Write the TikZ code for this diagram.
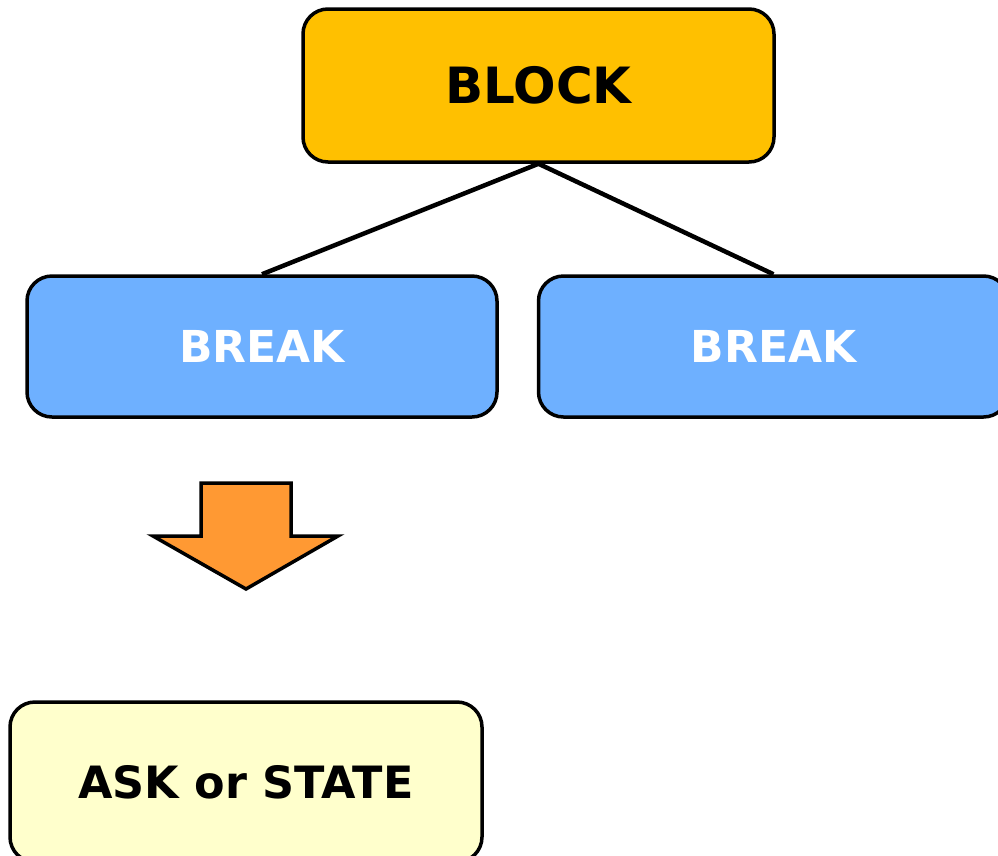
\documentclass[tikz,border=0pt]{standalone}
\usepackage{fontspec}
\setmainfont{DejaVu Sans}
\definecolor{blockfill}{HTML}{FFC000}
\definecolor{breakfill}{HTML}{6EB0FF}
\definecolor{arrowfill}{HTML}{FF9933}
\definecolor{askfill}{HTML}{FFFFCC}
\begin{document}
\begin{tikzpicture}[x=1pt,y=-1pt,
  box/.style={draw=black, line width=3.5pt, rounded corners=25pt, inner sep=0pt, font=\bfseries},
  link/.style={draw=black, line width=4.5pt}]
\useasboundingbox (0,0) rectangle (998,855);
\clip (0,0) rectangle (998,855);
\node[box, fill=blockfill, minimum width=471pt, minimum height=153pt,
      font=\bfseries\fontsize{50}{60}\selectfont] (block) at (538.5,85.5) {BLOCK};
\node[box, fill=breakfill, text=white, minimum width=470pt, minimum height=141pt,
      font=\bfseries\fontsize{44}{52}\selectfont] (breakL) at (262,346.5) {BREAK};
\node[box, fill=breakfill, text=white, minimum width=470pt, minimum height=141pt,
      font=\bfseries\fontsize{44}{52}\selectfont] (breakR) at (773.5,346.5) {BREAK};
\node[box, fill=askfill, minimum width=472pt, minimum height=160pt,
      font=\bfseries\fontsize{44.5}{52}\selectfont] (ask) at (246,782) {ASK or STATE};
\draw[link] (block.south) -- (breakL.north);
\draw[link] (block.south) -- (breakR.north);
\draw[fill=arrowfill, line width=3.5pt, line join=miter]
  (201,483) -- (291,483) -- (291,536) -- (338,536) -- (246,589) -- (153,536) -- (201,536) -- cycle;
\end{tikzpicture}
\end{document}
